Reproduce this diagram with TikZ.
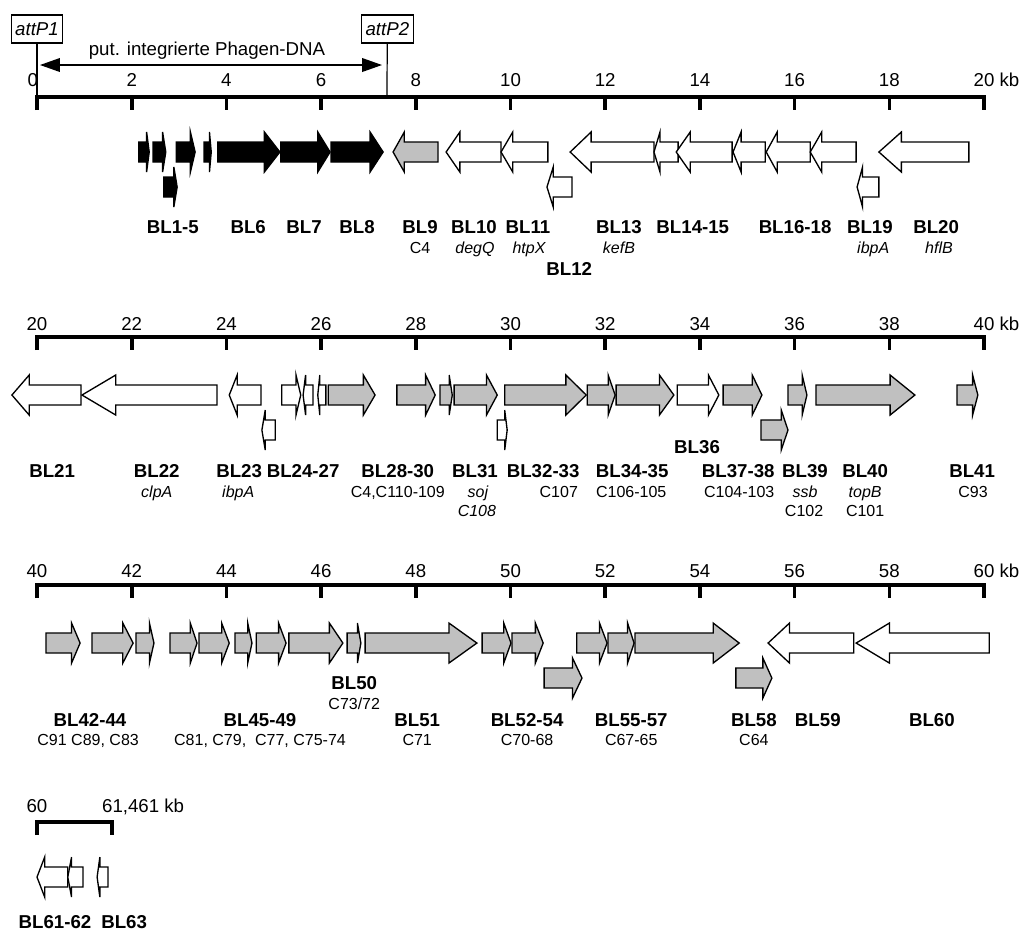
\documentclass[tikz,border=0pt]{standalone}
\usepackage{fontspec}
\setmainfont{Liberation Sans}
\usepackage{tikz}
\usetikzlibrary{arrows.meta}
\definecolor{GeneGray}{RGB}{192,192,192}

% gene arrow: start (kb), end (kb), centre y (px), fill colour
\newcommand{\gene}[4]{%
  \pgfmathsetmacro{\hb}{#1+0.75*(#2-#1)}
  \filldraw[genearrow, fill=#4] (#1,#3-10) -- (\hb,#3-10) -- (\hb,#3-20) -- (#2,#3)
    -- (\hb,#3+20) -- (\hb,#3+10) -- (#1,#3+10) -- cycle;
}

\tikzset{
  genearrow/.style={draw=black, line width=1pt},
  axis/.style={line width=2.7pt},
  num/.style={font=\fontsize{14}{16}\selectfont, anchor=base, inner sep=0pt},
  lab/.style={font=\bfseries\fontsize{14}{16}\selectfont, anchor=base, inner sep=0pt},
  sub/.style={font=\fontsize{12}{14}\selectfont, anchor=base, inner sep=0pt},
  attbox/.style={draw, line width=0.8pt, font=\itshape\fontsize{14}{16}\selectfont,
    minimum height=21pt, inner xsep=3pt}
}

\begin{document}
\begin{tikzpicture}[x=35.51pt, y=-0.75pt, >={Triangle[length=15pt, width=10pt]}]
  \useasboundingbox (-0.7814,0) rectangle (20.887,940);

  % attP sites and integrated region
  \node[attbox] (attP1) at (0,29) {attP1};
  \node[attbox] (attP2) at (7.40,29) {attP2};
  \coordinate (p1) at (0,97);
  \coordinate (p2) at (7.39,97);
  \draw[line width=0.9pt] (attP1) -- (p1);
  \draw[line width=0.9pt] (attP2) -- (p2);
  \coordinate (da) at (0.06,65);
  \coordinate (db) at (7.29,65);
  \draw[<->, line width=1.8pt] (da) -- (db);
  \node[num] (phage) at (3.59,55) {put. integrierte Phagen-DNA};

  % scales
  \foreach \r/\ya/\yb in {0/97/86, 1/337/330, 2/585/577} {
    \draw[axis] (0,\ya+13) -- (0,\ya) -- (20,\ya) -- (20,\ya+13);
    \foreach \t in {2,4,...,18}
      \draw[axis] (\t,\ya) -- (\t,\ya+13);
    \foreach \t in {0,2,...,20} {
      \pgfmathtruncatemacro\n{20*\r+\t}
      \pgfmathsetmacro\tx{\t-0.09*(\r==0)*(\t==0)}
      \node[num] (t\r-\t) at (\tx,\yb) {\n\ifnum\t=20 \rlap{ kb}\fi};
    }
  }
  \draw[axis] (0,835) -- (0,822) -- (1.58,822) -- (1.58,835);
  \node[num] (t3-0) at (0,812) {60};
  \node[num, anchor=base west] (t3-1) at (1.37,812) {61,461 kb};

  % genes 0-20 kb
  \foreach \s/\e/\y/\f in {2.15/2.37/152/black, 2.45/2.72/152/black, 2.94/3.34/152/black,
      3.53/3.68/152/black, 2.68/2.96/187/black, 3.82/5.13/152/black, 5.15/6.19/152/black,
      6.21/7.31/152/black, 8.47/7.52/152/GeneGray, 9.80/8.64/152/white, 10.79/9.80/152/white,
      11.30/10.77/187/white, 13.03/11.26/152/white, 13.54/13.03/152/white,
      14.68/13.50/152/white, 15.38/14.70/152/white, 16.33/15.40/152/white,
      17.30/16.33/152/white, 17.78/17.32/187/white, 19.68/17.78/152/white}
    \gene{\s}{\e}{\y}{\f};

  % genes 20-40 kb
  \foreach \s/\e/\y/\f in {0.93/-0.53/395/white, 3.80/0.95/395/white, 4.73/4.06/395/white,
      5.03/4.75/430/white, 5.17/5.57/395/white, 5.83/5.62/395/white, 6.10/5.93/395/white,
      6.15/7.14/395/GeneGray, 7.60/8.41/395/GeneGray, 8.51/8.77/395/GeneGray,
      8.81/9.72/395/GeneGray, 9.72/9.93/430/white, 9.88/11.60/395/GeneGray,
      11.62/12.21/395/GeneGray, 12.23/13.45/395/GeneGray, 13.52/14.40/395/white,
      14.49/15.31/395/GeneGray, 15.29/15.86/430/GeneGray, 15.86/16.26/395/GeneGray,
      16.45/18.54/395/GeneGray, 19.43/19.87/395/GeneGray}
    \gene{\s}{\e}{\y}{\f};

  % genes 40-60 kb
  \foreach \s/\e/\y/\f in {0.19/0.91/643/GeneGray, 1.16/2.03/643/GeneGray,
      2.09/2.47/643/GeneGray, 2.81/3.38/643/GeneGray, 3.42/4.06/643/GeneGray,
      4.18/4.54/643/GeneGray, 4.63/5.26/643/GeneGray, 5.32/6.46/643/GeneGray,
      6.55/6.84/643/GeneGray, 6.93/9.29/643/GeneGray, 9.40/10.01/643/GeneGray,
      10.03/10.69/643/GeneGray, 10.71/11.51/678/GeneGray, 11.40/12.04/643/GeneGray,
      12.06/12.61/643/GeneGray, 12.63/14.83/643/GeneGray, 14.76/15.52/678/GeneGray,
      17.25/15.44/643/white, 20.11/17.30/643/white}
    \gene{\s}{\e}{\y}{\f};

  % genes 60-61.5 kb
  \foreach \s/\e in {0.65/0, 0.97/0.65, 1.50/1.27}
    \gene{\s}{\e}{877}{white};

  % gene names
  \foreach \x/\t in {2.87/BL1-5, 4.46/BL6, 5.64/BL7, 6.76/BL8, 8.09/BL9, 9.23/BL10,
      10.37/BL11, 12.29/BL13, 13.85/BL14-15, 16.01/BL16-18, 17.59/BL19, 18.99/BL20}
    \node[lab] (\t) at (\x,233) {\t};
  \node[lab] (BL12) at (11.24,275) {BL12};
  \foreach \x/\t in {0.32/BL21, 2.53/BL22, 4.27/BL23, 5.62/BL24-27, 7.62/BL28-30,
      9.25/BL31, 10.69/BL32-33, 12.57/BL34-35, 14.81/BL37-38, 16.22/BL39, 17.49/BL40,
      19.75/BL41}
    \node[lab] (\t) at (\x,477) {\t};
  \node[lab] (BL36) at (13.94,453) {BL36};
  \foreach \x/\t in {1.12/BL42-44, 4.71/BL45-49, 8.03/BL51, 10.35/BL52-54,
      12.55/BL55-57, 15.14/BL58, 16.49/BL59, 18.90/BL60}
    \node[lab] (\t) at (\x,726) {\t};
  \node[lab] (BL50) at (6.70,689) {BL50};
  \node[lab] (BL61-62) at (0.38,928) {BL61-62};
  \node[lab] (BL63) at (1.84,928) {BL63};

  % annotations
  \node[sub] (s9) at (8.09,253) {C4};
  \node[sub] (s10) at (9.25,253) {\itshape degQ};
  \node[sub] (s11) at (10.39,253) {\itshape htpX};
  \node[sub] (s13) at (12.29,253) {\itshape kefB};
  \node[sub] (s19) at (17.66,253) {\itshape ibpA};
  \node[sub] (s20) at (19.05,253) {\itshape hflB};
  \node[sub] (s22) at (2.53,497) {\itshape clpA};
  \node[sub] (s23) at (4.25,497) {\itshape ibpA};
  \node[sub] (s28) at (7.62,497) {C4,C110-109};
  \node[sub] (s31) at (9.31,497) {\itshape soj};
  \node[sub] (s31b) at (9.29,516) {\itshape C108};
  \node[sub] (s32) at (11.02,497) {C107};
  \node[sub] (s34) at (12.55,497) {C106-105};
  \node[sub] (s37) at (14.83,497) {C104-103};
  \node[sub] (s39) at (16.22,497) {\itshape ssb};
  \node[sub] (s39b) at (16.20,516) {C102};
  \node[sub] (s40) at (17.49,497) {\itshape topB};
  \node[sub] (s40b) at (17.49,516) {C101};
  \node[sub] (s41) at (19.77,497) {C93};
  \node[sub] (s42) at (1.08,745) {C91 C89, C83};
  \node[sub] (s45) at (4.71,745) {C81, C79, \ C77, C75-74};
  \node[sub] (s50) at (6.70,709) {C73/72};
  \node[sub] (s51) at (8.03,745) {C71};
  \node[sub] (s52) at (10.35,745) {C70-68};
  \node[sub] (s55) at (12.55,745) {C67-65};
  \node[sub] (s58) at (15.14,745) {C64};
\end{tikzpicture}
\end{document}
